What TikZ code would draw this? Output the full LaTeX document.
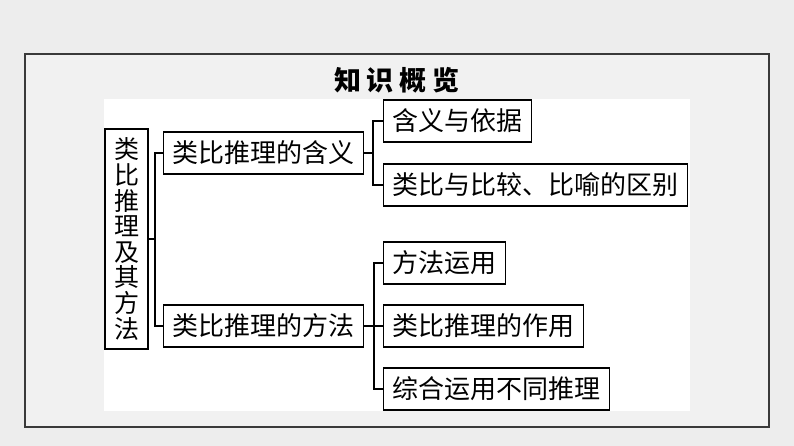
\documentclass[tikz,border=0pt]{standalone}
\usepackage{fontspec}
\newfontfamily\cjk{Noto Sans CJK SC}
\definecolor{pagebg}{HTML}{EDEDED}
\definecolor{framebg}{HTML}{F1F1F1}
\definecolor{frameline}{HTML}{3A3A3A}

\tikzset{
  topicbox/.style={draw, line width=1.2pt, inner xsep=9pt, inner ysep=0pt,
    minimum height=42pt, anchor=west, font=\cjk\fontsize{26pt}{30pt}\selectfont},
  rootbox/.style={draw, line width=1.2pt, inner sep=0pt, minimum width=43pt,
    minimum height=220pt, align=center, font=\cjk\fontsize{25pt}{25.6pt}\selectfont},
  bracket/.style={line width=1.2pt}
}

\begin{document}
\begin{tikzpicture}[x=1pt, y=-1pt]
  \useasboundingbox (0,0) rectangle (794,446);
  \fill[pagebg] (0,0) rectangle (794,446);
  \filldraw[fill=framebg, draw=frameline, line width=1.2pt] (25,54) rectangle (769,427);
  \fill[white] (104,99) rectangle (690,411);

  \node[font=\cjk\bfseries\fontsize{27pt}{30pt}\selectfont] (title) at (397,80)
    {知\hspace{6pt}识\hspace{6pt}概\hspace{6pt}览};

  \node[rootbox] (root) at (126.5,239) {类\\比\\推\\理\\及\\其\\方\\法};

  \node[topicbox] (m1) at (163,153) {类比推理的含义};
  \node[topicbox] (m2) at (163,326) {类比推理的方法};

  \node[topicbox] (l1) at (383,121) {含义与依据};
  \node[topicbox] (l2) at (383,185) {类比与比较、比喻的区别};
  \node[topicbox] (l3) at (383,263) {方法运用};
  \node[topicbox] (l4) at (383,326) {类比推理的作用};
  \node[topicbox] (l5) at (383,389) {综合运用不同推理};

  % brackets
  \draw[bracket] (root.east) -- ++(7,0);
  \draw[bracket] (m1.west) -- ++(-8,0) |- (m2.west);
  \draw[bracket] (m1.east) -- ++(10,0);
  \draw[bracket] (l1.west) -- ++(-10,0) |- (l2.west);
  \draw[bracket] (l3.west) -- ++(-9,0) |- (l5.west);
  \draw[bracket] (l4.west) -- (m2.east);
\end{tikzpicture}
\end{document}
